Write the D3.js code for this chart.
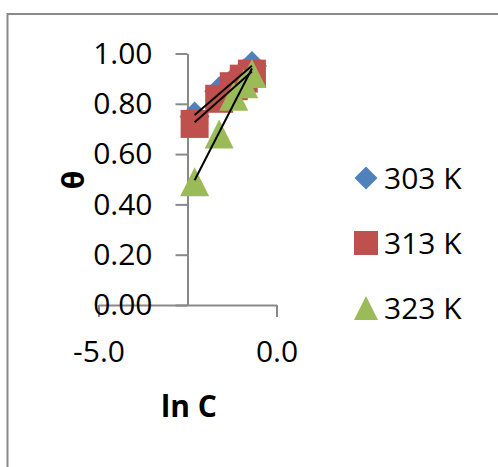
<!DOCTYPE html>
<html>
<head>
<meta charset="utf-8">
<script src="https://cdn.jsdelivr.net/npm/d3@7"></script>
<style>
  body { margin: 0; background: #fff; }
  text { font-family: "Open Sans", sans-serif; fill: #000; }
</style>
</head>
<body>
<div id="chart"></div>
<script>
// data
const lnC = [-2.30, -1.61, -1.20, -0.92, -0.69];
const theta303 = [0.75, 0.85, 0.89, 0.92, 0.95];
const theta313 = [0.72, 0.82, 0.87, 0.90, 0.92];
const theta323 = [0.49, 0.68, 0.83, 0.88, 0.92];
const seriesNames = ["303 K", "313 K", "323 K"];
const colors = ["#4F81BD", "#C0504D", "#9BBB59"];
const yTicks = [0, 0.2, 0.4, 0.6, 0.8, 1.0];
const xTicks = [-5, 0];

const W = 498, H = 467;
const svg = d3.select("#chart").append("svg")
    .attr("width", W)
    .attr("height", H);

svg.append("rect").attr("width", W).attr("height", H).attr("fill", "#fff");

// chart area border (only left and top visible)
svg.append("path")
    .attr("d", "M7.5,470 V14 H500")
    .attr("fill", "none")
    .attr("stroke", "#898989")
    .attr("stroke-width", 2);

const x = d3.scaleLinear().domain([-5, 0]).range([98.5, 276.5]);
const y = d3.scaleLinear().domain([0, 1]).range([305, 53.5]);

// x axis
const gx = svg.append("g")
    .attr("transform", `translate(0,${y(0)})`)
    .call(d3.axisBottom(x).tickValues(xTicks)
        .tickFormat(d => d.toFixed(1))
        .tickSizeInner(12).tickSizeOuter(0).tickPadding(24));

// y axis crosses at -2.5
const gy = svg.append("g")
    .attr("transform", `translate(${x(-2.5)},0)`)
    .call(d3.axisLeft(y).tickValues(yTicks)
        .tickFormat(d3.format(".2f"))
        .tickSizeInner(12).tickSizeOuter(0).tickPadding(23));

[gx, gy].forEach(g => {
  g.select(".domain").attr("stroke", "#898989").attr("stroke-width", 2);
  g.selectAll(".tick line").attr("stroke", "#898989").attr("stroke-width", 2);
  g.selectAll(".tick text")
      .style("font-family", "'Open Sans', sans-serif")
      .style("font-size", "30px")
      .attr("fill", "#000");
});
gx.selectAll(".tick text").attr("dy", "0.71em");

// marker shapes
function markerPath(kind, s) {
  if (kind === 0) return `M0,${-s}L${s},0L0,${s}L${-s},0Z`;
  if (kind === 1) return `M${-s},${-s}H${s}V${s}H${-s}Z`;
  return `M0,${-s}L${s},${s}H${-s}Z`;
}

const allSeries = [theta303, theta313, theta323];
const sizes = [15, 14, 14.5];

allSeries.forEach((vals, i) => {
  svg.append("g").selectAll("path")
    .data(vals)
    .enter()
    .append("path")
    .attr("d", markerPath(i, sizes[i]))
    .attr("transform", (d, j) => `translate(${x(lnC[j])},${y(d)})`)
    .attr("fill", colors[i]);
});

// linear trendlines
allSeries.forEach(vals => {
  const mx = d3.mean(lnC), my = d3.mean(vals);
  const sxy = d3.sum(lnC, (v, j) => (v - mx) * (vals[j] - my));
  const sxx = d3.sum(lnC, v => (v - mx) * (v - mx));
  const b = sxy / sxx, a = my - b * mx;
  const ends = d3.extent(lnC);
  svg.append("line")
    .attr("x1", x(ends[0])).attr("y1", y(a + b * ends[0]))
    .attr("x2", x(ends[1])).attr("y2", y(a + b * ends[1]))
    .attr("stroke", "#000")
    .attr("stroke-width", 2);
});

// axis titles
svg.append("text")
    .attr("transform", "translate(84,180) rotate(-90)")
    .attr("text-anchor", "middle")
    .style("font-weight", "bold")
    .style("font-size", "30px")
    .text("θ");

svg.append("text")
    .attr("x", 189).attr("y", 417)
    .attr("text-anchor", "middle")
    .style("font-weight", "bold")
    .style("font-size", "30px")
    .text("ln C");

// legend
const leg = svg.append("g");
seriesNames.forEach((name, i) => {
  const cy = 178 + i * 65;
  leg.append("path")
    .attr("d", markerPath(i, i === 0 ? 11.5 : 12))
    .attr("transform", `translate(366,${cy})`)
    .attr("fill", colors[i]);
  leg.append("text")
    .attr("x", 384).attr("y", cy)
    .attr("dy", "0.35em")
    .style("font-size", "30px")
    .text(name);
});
</script>
</body>
</html>
